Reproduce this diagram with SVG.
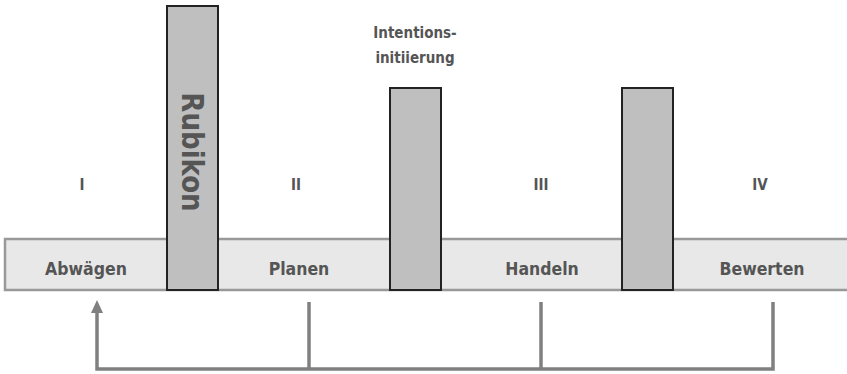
<svg xmlns="http://www.w3.org/2000/svg" width="847" height="374" viewBox="0 0 847 374">
<style>
.t{font-family:"DejaVu Sans Condensed","DejaVu Sans",sans-serif;font-stretch:condensed;font-weight:bold;fill:#555;text-anchor:middle}
.bar{fill:#bfbfbf;stroke:#222;stroke-width:2}
.c{fill:none;stroke:#808080;stroke-width:3.5}
</style>
<g id="band">
<rect x="5" y="239" width="850" height="51" fill="#e8e8e8" stroke="#999" stroke-width="2.5"/>
</g>
<g id="rubikon">
<rect class="bar" x="167" y="6" width="51" height="284"/>
<text class="t" font-size="29" transform="translate(182,152) rotate(90) scale(1,1.05)">Rubikon</text>
</g>
<g id="bar2">
<rect class="bar" x="390" y="88" width="51" height="202"/>
</g>
<g id="bar3">
<rect class="bar" x="622" y="88" width="51" height="202"/>
</g>
<g id="labels">
<text class="t" font-size="15" x="415" y="38">Intentions-</text>
<text class="t" font-size="15" x="415" y="63">initiierung</text>
<text class="t" font-size="15" x="82" y="190">I</text>
<text class="t" font-size="15" x="296" y="190">II</text>
<text class="t" font-size="15" x="541" y="190">III</text>
<text class="t" font-size="15" x="760" y="190">IV</text>
</g>
<g id="Abwaegen"><text class="t" font-size="17.5" x="86" y="275">Abwägen</text></g>
<g id="Planen"><text class="t" font-size="17.5" x="299" y="275">Planen</text></g>
<g id="Handeln"><text class="t" font-size="17.5" x="542" y="275">Handeln</text></g>
<g id="Bewerten"><text class="t" font-size="17.5" x="762" y="275">Bewerten</text></g>
<g id="connectors">
<path class="c" d="M773,302 V369 H97 V312"/>
<path d="M97,300 L91,313 L103,313 Z" fill="#808080"/>
<path class="c" d="M309,302 V369"/>
<path class="c" d="M541,302 V369"/>
</g>
</svg>
